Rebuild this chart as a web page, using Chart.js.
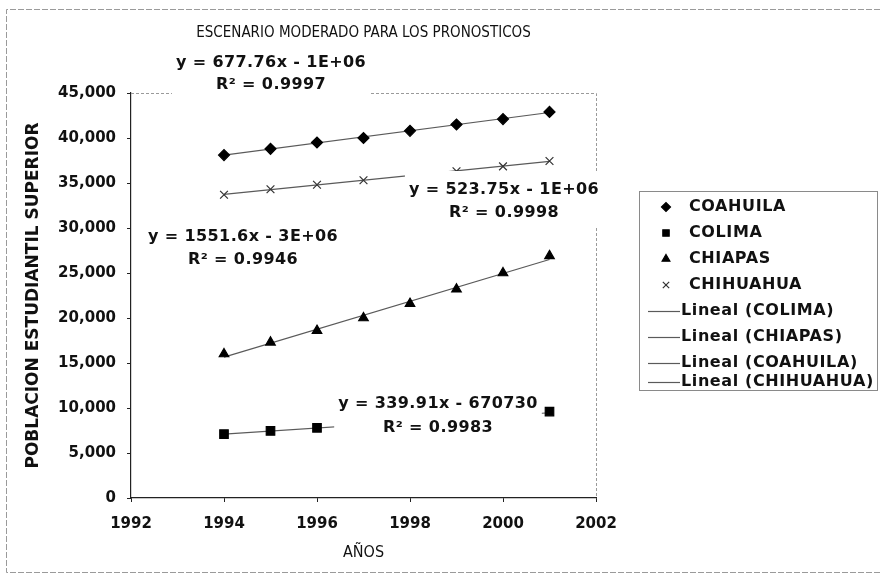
<!DOCTYPE html>
<html>
<head>
<meta charset="utf-8">
<script src="https://cdn.jsdelivr.net/npm/chart.js@4.4.0/dist/chart.umd.min.js"></script>
<style>
  html, body { margin: 0; padding: 0; background: #fff; }
  canvas { display: block; }
</style>
</head>
<body>
<canvas id="chart" width="880" height="581"></canvas>
<script>
// Enrolment per state, 1994-2001
const years     = [1994, 1995, 1996, 1997, 1998, 1999, 2000, 2001];
const coahuila  = [38100, 38800, 39500, 40000, 40800, 41500, 42100, 42900];
const colima    = [7100, 7450, 7800, 8100, 8400, 8750, 9050, 9600];
const chiapas   = [16000, 17300, 18600, 20000, 21600, 23200, 25000, 26900];
const chihuahua = [33700, 34300, 34800, 35300, 35800, 36300, 36850, 37450];

const stateNames = ['COAHUILA', 'COLIMA', 'CHIAPAS', 'CHIHUAHUA'];
const trendOrder = ['COLIMA', 'CHIAPAS', 'COAHUILA', 'CHIHUAHUA'];

// Regression equations as printed next to each trend line
const equations = {
  COAHUILA:  ['y = 677.76x - 1E+06', 'R² = 0.9997'],
  CHIHUAHUA: ['y = 523.75x - 1E+06', 'R² = 0.9998'],
  CHIAPAS:   ['y = 1551.6x - 3E+06', 'R² = 0.9946'],
  COLIMA:    ['y = 339.91x - 670730', 'R² = 0.9983']
};

const seriesByName = { COAHUILA: coahuila, COLIMA: colima, CHIAPAS: chiapas, CHIHUAHUA: chihuahua };
const markerStyle = {
  COAHUILA:  { pointStyle: 'rectRot',  pointRadius: 5.5, color: '#000' },
  COLIMA:    { pointStyle: 'rect',     pointRadius: 6,   color: '#000' },
  CHIAPAS:   { pointStyle: 'triangle', pointRadius: 5.5, color: '#000' },
  CHIHUAHUA: { pointStyle: 'crossRot', pointRadius: 5.5, color: '#333' }
};

// least-squares linear fit over the observed years
function linearFit(xs, ys) {
  const n = xs.length;
  const mx = xs.reduce((a, b) => a + b, 0) / n;
  const my = ys.reduce((a, b) => a + b, 0) / n;
  let sxy = 0, sxx = 0;
  for (let i = 0; i < n; i++) { sxy += (xs[i] - mx) * (ys[i] - my); sxx += (xs[i] - mx) ** 2; }
  const slope = sxy / sxx;
  return x => my + slope * (x - mx);
}

const scatterSets = stateNames.map(name => ({
  type: 'scatter',
  label: name,
  data: years.map((yr, i) => ({ x: yr, y: seriesByName[name][i] })),
  pointStyle: markerStyle[name].pointStyle,
  pointRadius: markerStyle[name].pointRadius,
  pointHoverRadius: markerStyle[name].pointRadius,
  backgroundColor: markerStyle[name].color,
  borderColor: markerStyle[name].color,
  borderWidth: 1.2,
  showLine: false,
  order: 1
}));

const trendSets = trendOrder.map(name => {
  const f = linearFit(years, seriesByName[name]);
  const x0 = years[0], x1 = years[years.length - 1];
  return {
    type: 'line',
    label: 'Lineal (' + name + ')',
    data: [{ x: x0, y: f(x0) }, { x: x1, y: f(x1) }],
    borderColor: '#5a5a5a',
    borderWidth: 1.2,
    pointRadius: 0,
    fill: false,
    order: 2
  };
});

const FONT = 'DejaVu Sans';

// white background, outer frame and the light plot-area border
const framePlugin = {
  id: 'frame',
  beforeDraw(chart) {
    const ctx = chart.ctx;
    ctx.save();
    ctx.fillStyle = '#fff';
    ctx.fillRect(0, 0, chart.width, chart.height);
    ctx.strokeStyle = '#9a9a9a';
    ctx.lineWidth = 1;
    ctx.setLineDash([6, 2]);
    ctx.beginPath();
    ctx.moveTo(880, 9.5); ctx.lineTo(6.5, 9.5); ctx.lineTo(6.5, 572.5); ctx.lineTo(880, 572.5);
    ctx.stroke();
    ctx.restore();
  },
  beforeDatasetsDraw(chart) {
    const { ctx, chartArea: a } = chart;
    ctx.save();
    ctx.strokeStyle = '#9a9a9a';
    ctx.lineWidth = 1;
    ctx.setLineDash([3, 2]);
    ctx.beginPath();
    ctx.moveTo(a.left, Math.round(a.top) + 0.5);
    ctx.lineTo(Math.round(a.right) + 0.5, Math.round(a.top) + 0.5);
    ctx.lineTo(Math.round(a.right) + 0.5, a.bottom);
    ctx.stroke();
    ctx.restore();
  }
};

// trend-line equations in white boxes
const equationPlugin = {
  id: 'equations',
  afterDatasetsDraw(chart, args, opts) {
    const ctx = chart.ctx;
    ctx.save();
    ctx.font = 'bold 16px "' + FONT + '"';
    ctx.letterSpacing = '0.4px';
    ctx.textAlign = 'center';
    ctx.textBaseline = 'middle';
    opts.places.forEach(p => {
      const lines = equations[p.name];
      const w = Math.max(...lines.map(t => ctx.measureText(t).width));
      ctx.fillStyle = '#fff';
      ctx.fillRect(p.cx - w / 2 - 4, p.y1 - 19, w + 8, (p.y2 - p.y1) + 33);
      ctx.fillStyle = '#111';
      ctx.fillText(lines[0], p.cx, p.y1);
      ctx.fillText(lines[1], p.cx, p.y2);
    });
    ctx.restore();
  }
};

// boxed legend at the right side
const sideLegendPlugin = {
  id: 'sideLegend',
  afterDraw(chart, args, opts) {
    const ctx = chart.ctx;
    ctx.save();
    ctx.strokeStyle = '#8a8a8a';
    ctx.lineWidth = 1;
    ctx.strokeRect(639.5, 191.5, 238, 199);
    ctx.font = 'bold 16px "' + FONT + '"';
    ctx.letterSpacing = '0.6px';
    ctx.textBaseline = 'middle';
    ctx.textAlign = 'left';
    chart.data.datasets.forEach((ds, i) => {
      const y = opts.rows[i];
      if (ds.type === 'line') {
        ctx.strokeStyle = ds.borderColor;
        ctx.lineWidth = 1.2;
        ctx.beginPath();
        ctx.moveTo(648, y + 0.5); ctx.lineTo(680, y + 0.5);
        ctx.stroke();
        ctx.fillStyle = '#111';
        ctx.fillText(ds.label, 681, y);
      } else {
        ctx.fillStyle = ds.backgroundColor;
        ctx.strokeStyle = ds.borderColor;
        ctx.lineWidth = 1.2;
        Chart.helpers.drawPoint(ctx, { pointStyle: ds.pointStyle, radius: 4.5, borderWidth: 1.2, rotation: 0 }, 666, y);
        ctx.fillStyle = '#111';
        ctx.fillText(ds.label, 689, y);
      }
    });
    ctx.restore();
  }
};

new Chart(document.getElementById('chart'), {
  data: { datasets: [...scatterSets, ...trendSets] },
  options: {
    responsive: false,
    animation: false,
    devicePixelRatio: 1,
    layout: { padding: { top: 10, right: 284, bottom: 0, left: 0 } },
    scales: {
      x: {
        type: 'linear',
        position: 'bottom',
        min: 1992, max: 2002,
        afterFit: s => { s.height = 83; },
        ticks: {
          stepSize: 2,
          callback: v => String(v),
          color: '#111',
          font: { family: FONT, size: 15, weight: 'bold' },
          padding: 13,
          maxRotation: 0
        },
        grid: { drawOnChartArea: false, drawTicks: true, tickLength: 4, color: '#222' },
        border: { color: '#222', width: 1.2 },
        title: {
          display: true, text: 'AÑOS', color: '#111',
          font: { family: 'DejaVu Sans Condensed', size: 16 },
          padding: { top: 0, bottom: 19 }
        }
      },
      y: {
        type: 'linear',
        min: 0, max: 45000,
        afterFit: s => { s.width = 131; },
        ticks: {
          stepSize: 5000,
          callback: v => v.toLocaleString('en-US'),
          color: '#111',
          font: { family: FONT, size: 15, weight: 'bold' },
          padding: 11
        },
        grid: { drawOnChartArea: false, drawTicks: true, tickLength: 4, color: '#222' },
        border: { color: '#222', width: 1.2 },
        title: {
          display: true, text: 'POBLACION ESTUDIANTIL SUPERIOR', color: '#111',
          font: { family: FONT, size: 17, weight: 'bold' },
          padding: { top: 23, bottom: 0 }
        }
      }
    },
    plugins: {
      legend: { display: false },
      tooltip: { enabled: false },
      title: {
        display: true,
        fullSize: false,
        text: 'ESCENARIO MODERADO PARA LOS PRONOSTICOS',
        color: '#111',
        font: { family: 'DejaVu Sans Condensed', size: 15, weight: 'normal' },
        padding: { top: 14, bottom: 51 }
      },
      equations: {
        places: [
          { name: 'COAHUILA',  cx: 271, y1: 63,  y2: 85 },
          { name: 'CHIHUAHUA', cx: 504, y1: 190, y2: 213 },
          { name: 'CHIAPAS',   cx: 243, y1: 237, y2: 260 },
          { name: 'COLIMA',    cx: 438, y1: 404, y2: 428 }
        ]
      },
      sideLegend: { rows: [207, 233, 259, 285, 311, 337, 363, 382] }
    }
  },
  plugins: [framePlugin, equationPlugin, sideLegendPlugin]
});
</script>
</body>
</html>
